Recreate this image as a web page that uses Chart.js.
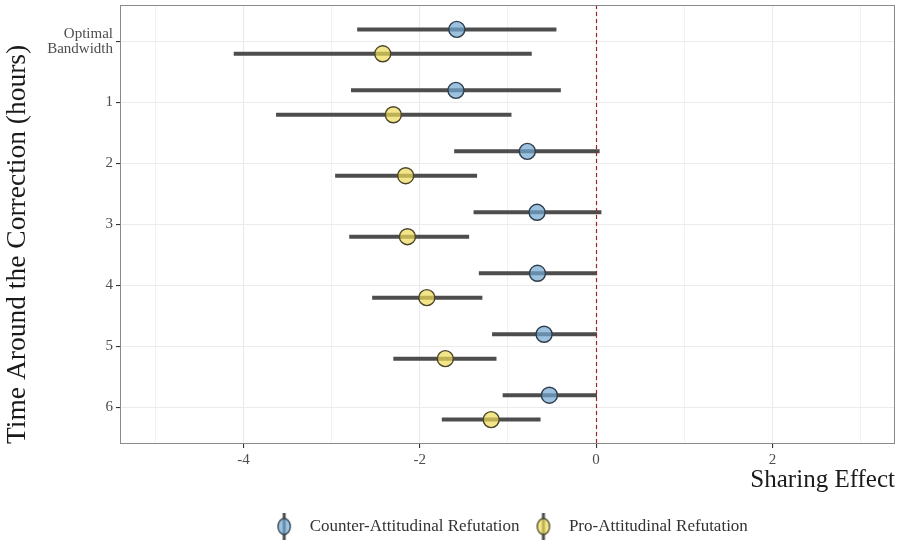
<!DOCTYPE html>
<html>
<head>
<meta charset="utf-8">
<script src="https://cdn.jsdelivr.net/npm/chart.js@4/dist/chart.umd.min.js"></script>
<style>
  html, body { margin: 0; padding: 0; background: #fff; }
  #wrap { width: 899px; height: 540px; }
</style>
</head>
<body>
<div id="wrap"><canvas id="forestChart"></canvas></div>
<script>
// rows, top to bottom
var rowLabels = [['Optimal', 'Bandwidth'], '1', '2', '3', '4', '5', '6'];
var seriesNames = ['Counter-Attitudinal Refutation', 'Pro-Attitudinal Refutation'];

// counter-attitudinal: estimate and interval
var counterEst  = [-1.58, -1.59, -0.78, -0.67, -0.665, -0.59, -0.53];
var counterLow  = [-2.71, -2.78, -1.61, -1.39, -1.33, -1.18, -1.06];
var counterHigh = [-0.45, -0.40, 0.04, 0.06, 0.01, 0.01, 0.01];

// pro-attitudinal: estimate and interval
var proEst  = [-2.42, -2.30, -2.16, -2.14, -1.92, -1.71, -1.19];
var proLow  = [-4.11, -3.63, -2.96, -2.80, -2.54, -2.30, -1.75];
var proHigh = [-0.73, -0.96, -1.35, -1.44, -1.29, -1.13, -0.63];

var xTicks = [-5, -4, -3, -2, -1, 0, 1, 2, 3];

var SERIF = '"Liberation Serif", "DejaVu Serif", serif';
var LEGEND_DROP = 5;

// row i sits at y = -i so the first row is on top
function rows(est, lo, hi, shift) {
    return est.map(function(v, i) {
        return { x: v, y: -(i + shift), lo: lo[i], hi: hi[i] };
    });
}

// legend key: point with a vertical range line through it
function keyGlyph(fill, stroke) {
    var c = document.createElement('canvas');
    c.width = 16; c.height = 28;
    var g = c.getContext('2d');
    g.strokeStyle = '#4d4d4d';
    g.lineWidth = 3;
    g.beginPath(); g.moveTo(8, 0); g.lineTo(8, 28); g.stroke();
    g.beginPath();
    g.ellipse(8, 14, 6.2, 8, 0, 0, Math.PI * 2);
    g.fillStyle = fill; g.fill();
    g.lineWidth = 1.3; g.strokeStyle = stroke; g.stroke();
    return c;
}

var blueFill = 'rgba(114,168,211,0.7)', blueLine = '#2f3d4c';
var yellowFill = 'rgba(236,218,88,0.7)', yellowLine = '#4a4428';
var glyphs = [keyGlyph(blueFill, blueLine), keyGlyph(yellowFill, yellowLine)];

var forestPlugin = {
    id: 'forest',
    beforeDatasetsDraw: function(chart) {
        var ctx = chart.ctx, xs = chart.scales.x, ys = chart.scales.y, a = chart.chartArea;
        ctx.save();
        ctx.strokeStyle = '#4d4d4d';
        ctx.lineWidth = 4;
        chart.data.datasets.forEach(function(ds) {
            ds.data.forEach(function(p) {
                var py = ys.getPixelForValue(p.y);
                ctx.beginPath();
                ctx.moveTo(xs.getPixelForValue(p.lo), py);
                ctx.lineTo(xs.getPixelForValue(p.hi), py);
                ctx.stroke();
            });
        });
        // reference line at zero
        var x0 = Math.round(xs.getPixelForValue(0)) + 0.5;
        ctx.strokeStyle = '#a0232b';
        ctx.lineWidth = 1.2;
        ctx.setLineDash([4, 3]);
        ctx.beginPath(); ctx.moveTo(x0, a.top); ctx.lineTo(x0, a.bottom); ctx.stroke();
        ctx.restore();
    },
    afterDraw: function(chart) {
        var ctx = chart.ctx, a = chart.chartArea;
        ctx.save();
        ctx.strokeStyle = '#8a8a8a';
        ctx.lineWidth = 1;
        ctx.strokeRect(Math.round(a.left) + 0.5, Math.round(a.top) + 0.5,
                       Math.round(a.right - a.left) - 1, Math.round(a.bottom - a.top) - 1);
        ctx.restore();
    }
};

var chart = new Chart(document.getElementById('forestChart').getContext('2d'), {
    type: 'scatter',
    data: {
        datasets: [{
            label: seriesNames[0],
            data: rows(counterEst, counterLow, counterHigh, -0.2),
            backgroundColor: blueFill,
            borderColor: blueLine,
            borderWidth: 1.4,
            pointRadius: 8,
            pointHoverRadius: 8
        }, {
            label: seriesNames[1],
            data: rows(proEst, proLow, proHigh, 0.2),
            backgroundColor: yellowFill,
            borderColor: yellowLine,
            borderWidth: 1.4,
            pointRadius: 8,
            pointHoverRadius: 8
        }]
    },
    options: {
        responsive: true,
        maintainAspectRatio: false,
        animation: false,
        layout: { autoPadding: false, padding: { top: 5, right: 4, left: 0, bottom: -LEGEND_DROP } },
        scales: {
            x: {
                type: 'linear',
                min: -5.4,
                max: 3.39,
                afterBuildTicks: function(scale) {
                    scale.ticks = xTicks.map(function(v) { return { value: v }; });
                },
                afterFit: function(scale) {
                    var lg = scale.chart.legend;
                    var lh = lg && lg.height ? lg.height : 36;
                    scale.height = scale.chart.height + LEGEND_DROP - 444 - lh;
                    scale.paddingLeft = 0;
                    scale.paddingRight = 0;
                },
                border: { display: false },
                grid: {
                    color: '#ebebeb',
                    lineWidth: function(c) { return c.tick && c.tick.value % 2 === 0 ? 1.1 : 0.7; },
                    tickColor: function(c) { return c.tick && c.tick.value % 2 === 0 ? '#333' : 'rgba(0,0,0,0)'; },
                    tickLength: 4
                },
                ticks: {
                    autoSkip: false,
                    maxRotation: 0,
                    padding: 3,
                    color: '#4d4d4d',
                    font: { family: SERIF, size: 15 },
                    callback: function(v) { return v % 2 === 0 ? String(v) : ''; }
                },
                title: {
                    display: true,
                    text: 'Sharing Effect',
                    align: 'end',
                    color: '#1a1a1a',
                    font: { family: SERIF, size: 25 },
                    padding: { top: 0, bottom: 16 }
                }
            },
            y: {
                type: 'linear',
                min: -6.6,
                max: 0.6,
                afterBuildTicks: function(scale) {
                    scale.ticks = rowLabels.map(function(l, i) { return { value: -i }; });
                },
                afterFit: function(scale) {
                    scale.width = 120;
                    scale.paddingTop = 0;
                    scale.paddingBottom = 0;
                },
                border: { display: false },
                grid: { color: '#ebebeb', lineWidth: 1.1, tickColor: '#333', tickLength: 4 },
                ticks: {
                    autoSkip: false,
                    padding: 3,
                    color: '#4d4d4d',
                    font: { family: SERIF, size: 15, lineHeight: 0.95 },
                    callback: function(v) { return rowLabels[Math.abs(v)]; }
                },
                title: {
                    display: true,
                    text: 'Time Around the Correction (hours)',
                    align: 'start',
                    color: '#1a1a1a',
                    font: { family: SERIF, size: 27.5 },
                    padding: { top: 1, bottom: 0 }
                }
            }
        },
        plugins: {
            tooltip: { enabled: false },
            legend: {
                position: 'bottom',
                fullSize: false,
                labels: {
                    usePointStyle: true,
                    pointStyleWidth: 34,
                    padding: 7,
                    color: '#333',
                    font: { family: SERIF, size: 17 },
                    generateLabels: function(chart) {
                        return chart.data.datasets.map(function(ds, i) {
                            return { text: ds.label, pointStyle: glyphs[i], datasetIndex: i,
                                     hidden: false, lineWidth: 0, fontColor: '#333' };
                        });
                    }
                }
            }
        }
    },
    plugins: [forestPlugin]
});
// second pass so the axis height sees the fitted legend
chart.update();
</script>
</body>
</html>
